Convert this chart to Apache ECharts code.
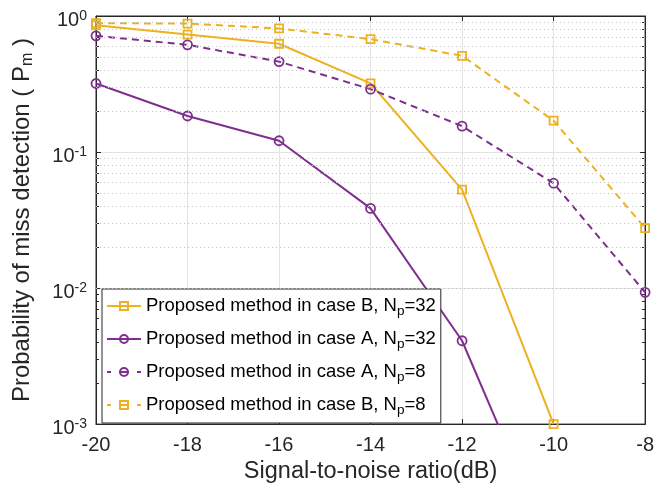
<!DOCTYPE html>
<html><head><meta charset="utf-8">
<script src="https://cdn.jsdelivr.net/npm/echarts@6/dist/echarts.min.js"></script>
<style>html,body{margin:0;padding:0;background:#fff}#c{width:657px;height:489px}</style>
</head><body><div id="c"></div>
<script>
const snr = [-20, -18, -16, -14, -12, -10, -8];
const caseB_Np32 = [0.855, 0.73, 0.625, 0.32, 0.053, 0.001, null];
const caseA_Np32 = [0.319, 0.184, 0.121, 0.0385, 0.0041, 0.00011, null];
const caseA_Np8 = [0.715, 0.614, 0.462, 0.29, 0.155, 0.059, 0.0093];
const caseB_Np8 = [0.885, 0.88, 0.81, 0.676, 0.51, 0.17, 0.0276];
const xTicks = [-20, -18, -16, -14, -12, -10, -8];
const yDecades = [0.001, 0.01, 0.1, 1];
const yMinor = [0.002,0.003,0.004,0.005,0.006,0.007,0.008,0.009,
                0.02,0.03,0.04,0.05,0.06,0.07,0.08,0.09,
                0.2,0.3,0.4,0.5,0.6,0.7,0.8,0.9];
const names = ['Proposed method in case B, Np=32','Proposed method in case A, Np=32','Proposed method in case A, Np=8','Proposed method in case B, Np=8'];

const YEL = '#EDB120', PUR = '#7E2F8E', FONT = 'Liberation Sans', AX = '#262626';
const pairs = arr => snr.map((x, i) => [x, arr[i]]);
function mk(name, data, color, dashed, sym, size){
  return {name, type:'line', data:pairs(data), clip:true, symbol:sym, symbolSize:size, z: 3,
    lineStyle:{color, width:2, type: dashed ? [7,5] : 'solid'},
    itemStyle:{color:'rgba(255,255,255,0)', borderColor:color, borderWidth:1.8},
    emphasis:{disabled:true}};
}
const legendDash = [4, 8, 10, 8, 4, 30];
const chart = echarts.init(document.getElementById('c'), null, {renderer:'canvas'});
const supFmt = v => { const e = Math.round(Math.log10(v)); return '{b|10}{s|' + e + '}'; };
const tickAxisCommon = {
  axisLine:{show:true, onZero:false, lineStyle:{color:AX}},
  axisTick:{inside:true, length:5, lineStyle:{color:AX}}
};
const minorTickAxis = pos => ({type:'value', min:-3, max:0, position:pos,
    axisLine:{show:false}, axisLabel:{show:false}, splitLine:{show:false},
    axisTick:{show:true, inside:true, length:3, customValues:yMinor.map(v => Math.log10(v)), lineStyle:{color:AX}}});
chart.setOption({
  animation:false,
  textStyle:{fontFamily:FONT},
  grid:{left:96, right:11, top:16, bottom:62, show:true, borderColor:AX, borderWidth:1, backgroundColor:'#fff'},
  legend:{orient:'vertical', left:102, top:289, backgroundColor:'#fff', borderColor:AX, borderWidth:1,
    padding:[5,5,6,4], itemGap:9, itemWidth:34, itemHeight:10,
    data:[{name:names[0]},{name:names[1]},
          {name:names[2], lineStyle:{type:legendDash}},
          {name:names[3], lineStyle:{type:legendDash}}],
    formatter: n => n.replace('Np', 'N{sub|p}'),
    textStyle:{fontFamily:FONT, fontSize:18.5, color:'#000', lineHeight:20,
      rich:{sub:{fontFamily:FONT, fontSize:13.5, lineHeight:13, padding:[10,0,0,0]}}}},
  xAxis:[Object.assign({type:'value', min:-20, max:-8, interval:2, position:'bottom',
    axisLabel:{color:AX, fontSize:20, fontFamily:FONT, margin:11},
    splitLine:{show:true, lineStyle:{color:'#e3e3e3', width:1}},
    name:'Signal-to-noise ratio(dB)', nameLocation:'middle', nameGap:27,
    nameTextStyle:{color:AX, fontSize:23.5, fontFamily:FONT}}, tickAxisCommon),
   Object.assign({type:'value', min:-20, max:-8, interval:2, position:'top',
    axisLabel:{show:false}, splitLine:{show:false}}, tickAxisCommon)],
  yAxis:[Object.assign({type:'log', logBase:10, min:0.001, max:1, position:'left',
    axisLabel:{color:AX, fontFamily:FONT, margin:9, formatter:supFmt, padding:[8,0,0,0],
      rich:{b:{fontSize:20, fontFamily:FONT, color:AX, lineHeight:20},
            s:{fontSize:14, fontFamily:FONT, color:AX, lineHeight:14, padding:[0,0,8,0]}}},
    splitLine:{show:true, lineStyle:{color:'#e3e3e3', width:1}},
    name:'Probability of miss detection ( P{sub|m} )', nameLocation:'middle', nameGap:61, nameRotate:90,
    nameTextStyle:{color:AX, fontSize:24, fontFamily:FONT, lineHeight:26,
      rich:{sub:{fontSize:16, fontFamily:FONT, color:AX, lineHeight:14, padding:[12,0,0,0]}}}}, tickAxisCommon),
   Object.assign({type:'log', logBase:10, min:0.001, max:1, position:'right',
    axisLabel:{show:false}, splitLine:{show:false}}, tickAxisCommon),
   minorTickAxis('left'), minorTickAxis('right')],
  series:[
    {type:'line', data:[], yAxisIndex:0, silent:true, z:1,
     markLine:{silent:true, symbol:['none','none'], label:{show:false}, animation:false,
       lineStyle:{color:'#c4c4c4', width:1, type:[1,3]}, emphasis:{disabled:true},
       data: yMinor.map(v => ({yAxis:v}))}},
    mk(names[0], caseB_Np32, YEL, false, 'rect', 8),
    mk(names[1], caseA_Np32, PUR, false, 'circle', 9),
    mk(names[2], caseA_Np8, PUR, true, 'circle', 9),
    mk(names[3], caseB_Np8, YEL, true, 'rect', 8)
  ]
});
</script></body></html>
